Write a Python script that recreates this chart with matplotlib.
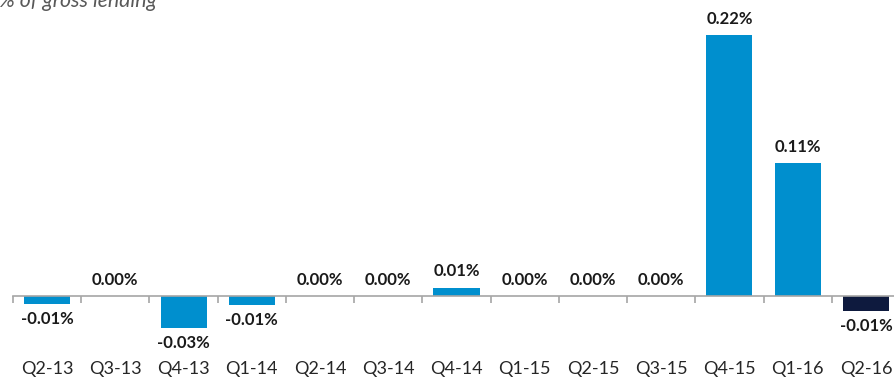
import matplotlib
matplotlib.use("Agg")
import matplotlib.pyplot as plt

plt.rcParams["font.family"] = ["Lato", "DejaVu Sans"]

quarters = ["Q2-13", "Q3-13", "Q4-13", "Q1-14", "Q2-14", "Q3-14", "Q4-14",
            "Q1-15", "Q2-15", "Q3-15", "Q4-15", "Q1-16", "Q2-16"]
values = [-0.007, 0.0, -0.027, -0.008, 0.0, 0.0, 0.007,
          0.0, 0.0, 0.0, 0.22, 0.112, -0.013]
colors = ["#008FCE"] * 12 + ["#0E1A3E"]

W, H = 895, 391
fig = plt.figure(figsize=(W / 100, H / 100), dpi=100)
fig.patch.set_facecolor("white")

# axes: zero line at 296px from top, ~1186 px per 1 %
ymin, ymax = -0.04, 0.25
ppu = 261 / 0.22
bottom_px = (H - 296) - (-ymin) * ppu
ax = fig.add_axes([13 / W, bottom_px / H, 887 / W, (ymax - ymin) * ppu / H])
ax.set_xlim(-0.5, 12.5)
ax.set_ylim(ymin, ymax)

x = list(range(len(quarters)))
ax.bar(x, values, width=0.675, color=colors, edgecolor="none", zorder=2)

for xi, v in zip(x, values):
    txt = f"{abs(v):.2f}%" if round(v, 2) == 0 else f"{v:.2f}%"
    if v >= 0:
        ax.annotate(txt, (xi, v), xytext=(0, 6), textcoords="offset points",
                    ha="center", va="bottom", fontsize=12, fontweight="bold",
                    color="#1a1a1a")
    else:
        ax.annotate(txt, (xi, v), xytext=(0, -5), textcoords="offset points",
                    ha="center", va="top", fontsize=12, fontweight="bold",
                    color="#1a1a1a")

for s in ["top", "right", "left"]:
    ax.spines[s].set_visible(False)
ax.spines["bottom"].set_position(("data", 0))
ax.spines["bottom"].set_color("#A6A6A6")
ax.spines["bottom"].set_linewidth(1.2)
ax.set_yticks([])

ax.set_xticks(x)
ax.set_xticklabels(quarters)
ax.tick_params(axis="x", which="major", length=0, pad=47, labelsize=13,
               labelcolor="#262626")
ax.set_xticks([i - 0.5 for i in range(len(quarters) + 1)], minor=True)
ax.tick_params(axis="x", which="minor", length=5, width=1.2, color="#A6A6A6",
               direction="out")

fig.text(-0.001, 1 - 7 / H, "% of gross lending", ha="left", va="baseline",
         fontsize=15.3, fontstyle="italic", color="#595959")

fig.savefig("out.png", dpi=100, facecolor="white")
